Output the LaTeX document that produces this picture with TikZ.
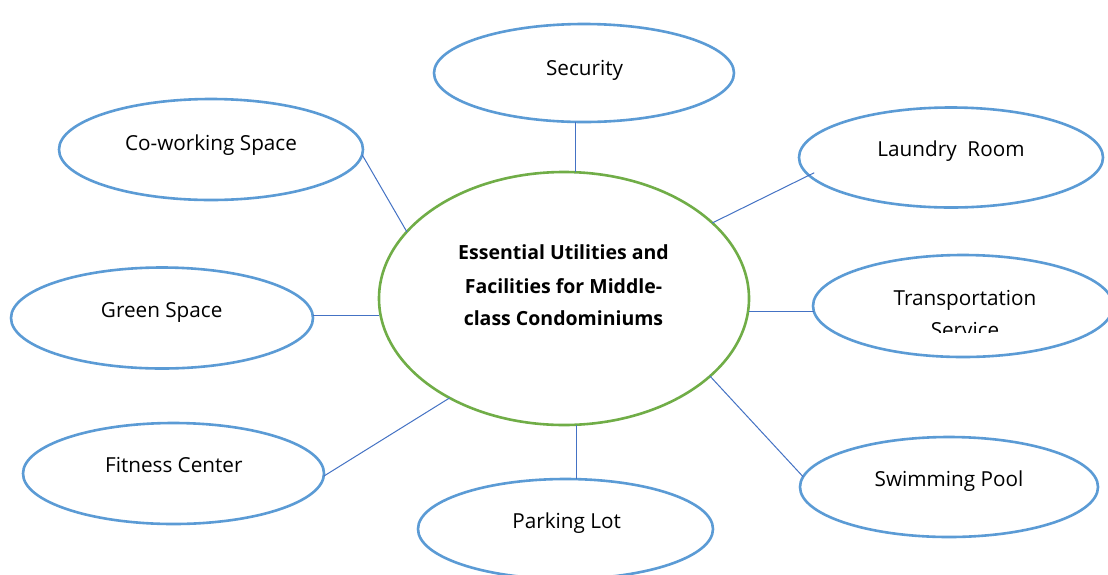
\documentclass[tikz,border=0pt]{standalone}
\usepackage{fontspec}
\setmainfont{Open Sans}
\usetikzlibrary{shapes.geometric}
\definecolor{ringblue}{HTML}{5B9BD5}
\definecolor{linkblue}{HTML}{4472C4}
\definecolor{hubgreen}{HTML}{70AD47}
\tikzset{
  bubble/.style={draw=ringblue, line width=2.6pt, ellipse, inner sep=0pt, outer sep=0pt,
    minimum width=300pt, minimum height=100pt, fill=white},
  hubring/.style={draw=hubgreen, line width=2.6pt, ellipse, inner sep=0pt, outer sep=0pt,
    minimum width=370pt, minimum height=253pt},
  label text/.style={anchor=base, inner sep=0pt, font=\fontsize{20.7}{24}\selectfont},
  hub text/.style={anchor=base, inner sep=0pt, font=\fontsize{19.5}{33}\bfseries},
  link/.style={draw=linkblue, line width=1pt}
}
\begin{document}
\begin{tikzpicture}[x=1pt,y=-1pt]
  \useasboundingbox (0,0) rectangle (1108,574);
  \fill[white] (0,0) rectangle (1108,574);
  \clip (0,0) rectangle (1108,574);

  % central topic
  \node[hubring] (hub) at (564,298.5) {};
  \node[hub text] (hub-1) at (563.5,259.3) {Essential Utilities and};
  \node[hub text] (hub-2) at (563.5,293.3) {Facilities for Middle-};
  \node[hub text] (hub-3) at (563.5,325.5) {class Condominiums};

  % surrounding facilities
  \node[bubble, minimum width=300pt, minimum height=98pt]  (sec) at (584,73) {};
  \node[bubble, minimum width=304pt, minimum height=101pt] (cow) at (211,149.5) {};
  \node[bubble, minimum width=304pt, minimum height=100pt] (lau) at (951,157.5) {};
  \node[bubble, minimum width=302pt, minimum height=101pt] (grn) at (162,318) {};
  \node[bubble, minimum width=300pt, minimum height=102pt] (trn) at (963,306) {};
  \node[bubble, minimum width=301pt, minimum height=101pt] (fit) at (173.5,473.5) {};
  \node[bubble, minimum width=298pt, minimum height=100pt] (swm) at (949,487) {};
  \node[bubble, minimum width=295pt, minimum height=100pt] (prk) at (565.5,529) {};

  \node[label text] (sec-t) at (584.5,75) {Security};
  \node[label text] (cow-t) at (211,150) {Co-working Space};
  \node[label text] (lau-t) at (951,156) {Laundry\ \ Room};
  \node[label text] (grn-t) at (161.7,317.3) {Green Space};
  \node[label text] (fit-t) at (173.8,472.7) {Fitness Center};
  \node[label text] (swm-t) at (949,486) {Swimming Pool};
  \node[label text] (prk-t) at (566.7,528.3) {Parking Lot};
  \begin{scope}
    \clip (800,280) rectangle (1108,332.5);
    \node[label text] (trn-t1) at (965,305) {Transportation};
    \node[label text] (trn-t2) at (965,337) {Service};
  \end{scope}

  % connectors
  \draw[link] (sec.260.7) -- (sec.260.7 |- hub.north);
  \draw[link] (cow.-2) -- (hub.157.9);
  \draw[link] ([xshift=8pt]lau.186) -- (hub.27);
  \draw[link] (grn.1) -- (grn.1 -| hub.west);
  \draw[link] (trn.182.7 -| hub.east) -- (trn.182.7);
  \draw[link] (fit.-1.7) -- (hub.221.9);
  \draw[link] (hub.-28.8) -- (swm.176.5);
  \draw[link] (prk.78.1 |- hub.south) -- (prk.78.1);
\end{tikzpicture}
\end{document}
